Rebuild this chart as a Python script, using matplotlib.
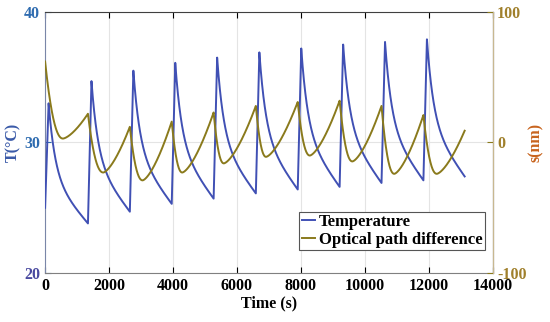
import numpy as np
import matplotlib
matplotlib.use('Agg')
import matplotlib.pyplot as plt

plt.rcParams['font.family'] = ['Liberation Serif', 'DejaVu Serif']
plt.rcParams['font.weight'] = 'bold'
plt.rcParams['axes.unicode_minus'] = False

# cycle boundaries (s) where heating starts / OPD peaks
t_bound = [0, 1340, 2650, 3960, 5270, 6590, 7900, 9210, 10520, 11830]
t_end = 13120

# temperature (deg C)
T_start = 25.0
T_peak = [33.0, 34.7, 35.5, 36.1, 36.5, 36.9, 37.2, 37.5, 37.7, 37.9]
T_trough = [23.8, 24.7, 25.3, 25.7, 26.1, 26.4, 26.6, 26.9, 27.1, 27.4]

# optical path difference (nm)
s_start = 62
s_min = [3, -23, -29, -23, -16, -11, -10, -14.5, -24]
s_min_dt = [560, 480, 400, 330, 320, 320, 380, 400, 400, 420]
s_peak = [22, 12, 16, 23, 28, 31, 32, 28, 21]
s_min_last = -24
s_end = 9

rise = 110  # heating time in s

# build temperature curve
tt, TT = [], []
ends = t_bound[1:] + [t_end]
for k in range(len(t_bound)):
    t0, t1 = t_bound[k], ends[k]
    T0 = T_start if k == 0 else T_trough[k - 1]
    tr = np.linspace(t0, t0 + rise, 10)
    tt.append(tr)
    TT.append(np.linspace(T0, T_peak[k], 10))
    td = np.linspace(t0 + rise, t1, 200)
    u = (td - td[0]) / (t1 - td[0])
    f = 0.62 * np.exp(-(td - td[0]) / 210) + 0.38 * (1 - u)
    f = f - f[-1] * u
    tt.append(td)
    TT.append(T_trough[k] + (T_peak[k] - T_trough[k]) * f)
t_T = np.concatenate(tt)
T = np.concatenate(TT)

# build OPD curve
peaks = [s_start] + s_peak
mins = s_min + [s_min_last]
nexts = s_peak + [s_end]
ts, ss = [], []
for k in range(len(t_bound)):
    t0, t1 = t_bound[k], ends[k]
    d = s_min_dt[k]
    td = np.linspace(t0, t0 + d, 80)
    u = (td - t0) / d
    ts.append(td)
    ss.append(mins[k] + (peaks[k] - mins[k]) * (1 - u) ** 2.2)
    tr = np.linspace(t0 + d, t1, 150)
    w = (tr - tr[0]) / (t1 - tr[0])
    ts.append(tr)
    ss.append(mins[k] + (nexts[k] - mins[k]) * w ** 1.5)
t_s = np.concatenate(ts)
s = np.concatenate(ss)

blue = '#4050b4'
olive = '#8a7a1c'

fig = plt.figure(figsize=(5.5, 3.22), dpi=100)
ax = fig.add_axes([0.082, 0.152, 0.814, 0.811])
ax2 = ax.twinx()

l1, = ax.plot(t_T, T, color=blue, lw=1.4, label='Temperature', zorder=3)
l2, = ax2.plot(t_s, s, color=olive, lw=1.4, label='Optical path difference')

ax.set_xlim(0, 14000)
ax.set_ylim(20, 40)
ax2.set_ylim(-100, 100)
ax.set_xticks(range(0, 14001, 2000))
ax.set_yticks([20, 30, 40])
ax2.set_yticks([-100, 0, 100])
ax.grid(True, color='#e4e4e4', lw=0.8)
ax.set_axisbelow(True)

ax.tick_params(axis='both', direction='in', labelsize=11.5, length=4, top=True)
ax.tick_params(axis='y', colors='#2f6cb0', labelcolor='#2f6cb0')
ax2.tick_params(axis='y', direction='in', labelsize=11.5, length=4,
                colors=olive, labelcolor='#a0802c', pad=3)
for lab in ax.get_xticklabels() + ax.get_yticklabels() + ax2.get_yticklabels():
    lab.set_fontweight('bold')
ax.get_yticklabels()[0].set_color('#4a4aa0')

ax.spines['left'].set_color('#7a86a8')
ax.spines['bottom'].set_color('#808080')
ax.spines['top'].set_color('#404040')
ax2.spines['right'].set_color('#c8b890')
for sp in ['left', 'bottom', 'top']:
    ax2.spines[sp].set_visible(False)

ax.set_xlabel('Time (s)', fontsize=11.5, fontweight='bold', labelpad=1)
ax.set_ylabel('T(°C)', fontsize=11.5, fontweight='bold', color='#3a5aa8', labelpad=2)
ax2.set_ylabel('s(nm)', fontsize=11.5, fontweight='bold', color='#c8641e', labelpad=1)

leg = ax.legend(handles=[l1, l2], loc='lower right', bbox_to_anchor=(0.982, 0.087),
                prop={'family': 'Liberation Serif', 'weight': 'bold', 'size': 12},
                handlelength=0.8, handletextpad=0.2, borderpad=0.15,
                labelspacing=0.1, fancybox=False, framealpha=1,
                edgecolor='#555555', borderaxespad=0)
leg.get_frame().set_linewidth(0.8)
leg.set_zorder(5)

fig.savefig('out.png', dpi=100)
